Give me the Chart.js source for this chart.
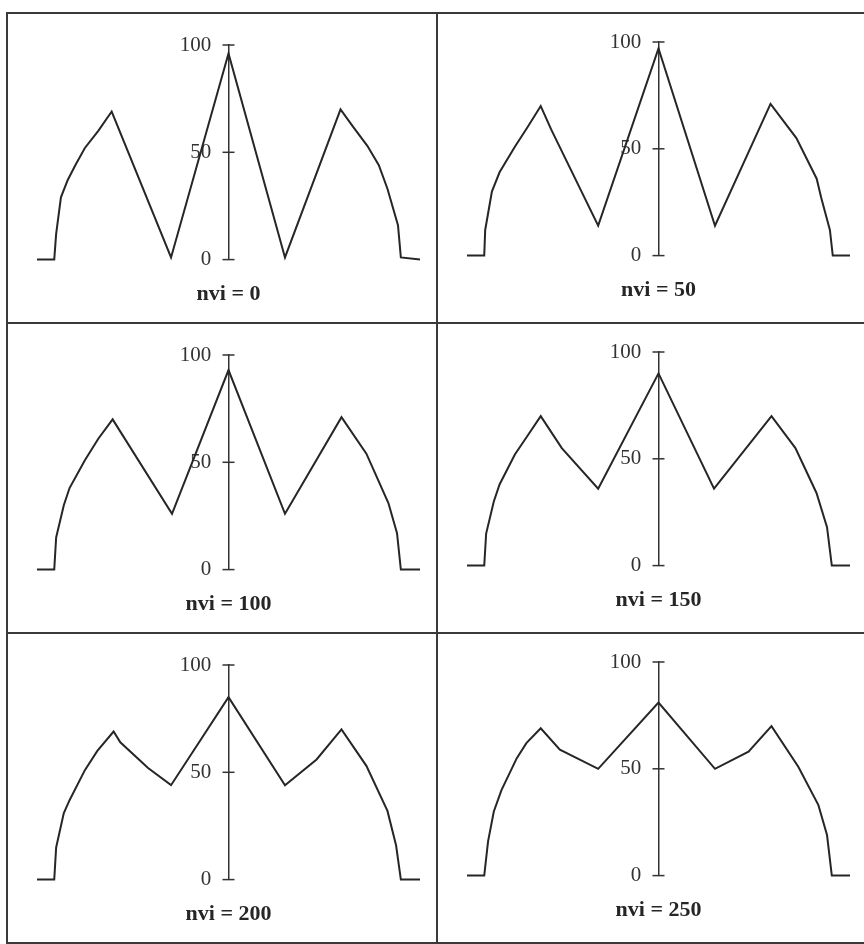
<!DOCTYPE html>
<html>
<head>
  <meta charset="utf-8">
  <title>nvi profiles</title>
  <script src="https://cdn.jsdelivr.net/npm/chart.js@4.4.1/dist/chart.umd.min.js"></script>
  <style>
    body { margin: 0; background: #fff; }
    #frame {
      position: absolute; left: 6px; top: 12px;
      display: grid;
      grid-template-columns: 430px 430px;
      grid-template-rows: 310px 310px 310px;
      border-top: 2px solid #3a3a3a;
      border-left: 2px solid #3a3a3a;
    }
    .cell {
      position: relative;
      box-sizing: border-box;
      border-right: 2px solid #3a3a3a;
      border-bottom: 2px solid #3a3a3a;
    }
    .cell canvas { display: block; }
  </style>
</head>
<body>
  <div id="frame">
    <div class="cell"><canvas id="c0"></canvas></div>
    <div class="cell"><canvas id="c1"></canvas></div>
    <div class="cell"><canvas id="c2"></canvas></div>
    <div class="cell"><canvas id="c3"></canvas></div>
    <div class="cell"><canvas id="c4"></canvas></div>
    <div class="cell"><canvas id="c5"></canvas></div>
  </div>

  <script>
    // panel titles
    const nviLabels = ['nvi = 0', 'nvi = 50', 'nvi = 100', 'nvi = 150', 'nvi = 200', 'nvi = 250'];
    const yTicks = [0, 50, 100];

    // profile vertices (x: position, y: value)
    const x0 = [-10, -9.1, -9.0, -8.75, -8.4, -8.0, -7.5, -6.8, -6.1, -3.0, 0, 2.95, 5.85, 6.5, 7.25, 7.85, 8.3, 8.85, 9.0, 10];
    const y0 = [0, 0, 12, 29, 37, 44, 52, 60, 69, 1, 96, 1, 70, 62, 53, 44, 33, 16, 1, 0];

    const x50 = [-10, -9.1, -9.05, -8.7, -8.3, -7.5, -6.85, -6.15, -5.6, -3.15, 0, 2.95, 5.85, 7.2, 8.26, 8.5, 8.95, 9.1, 10];
    const y50 = [0, 0, 12, 30, 39, 51, 60, 70, 59, 14, 97, 14, 71, 55, 36, 27, 12, 0, 0];

    const x100 = [-10, -9.1, -9.0, -8.6, -8.3, -7.5, -6.8, -6.05, -2.95, 0, 2.95, 5.9, 7.2, 8.35, 8.8, 9.0, 10];
    const y100 = [0, 0, 15, 30, 38, 51, 61, 70, 26, 93, 26, 71, 54, 31, 17, 0, 0];

    const x150 = [-10, -9.1, -9.0, -8.6, -8.3, -7.5, -6.9, -6.15, -5.05, -3.15, 0, 2.9, 5.9, 7.15, 8.25, 8.8, 9.05, 10];
    const y150 = [0, 0, 15, 30, 38, 52, 60, 70, 55, 36, 90, 36, 70, 55, 34, 18, 0, 0];

    const x200 = [-10, -9.1, -9.0, -8.6, -8.3, -7.5, -6.85, -6.0, -5.65, -4.2, -3.0, 0, 2.95, 4.6, 5.9, 7.2, 8.3, 8.75, 9.0, 10];
    const y200 = [0, 0, 15, 31, 37, 51, 60, 69, 64, 52, 44, 85, 44, 56, 70, 53, 32, 16, 0, 0];

    const x250 = [-10, -9.1, -8.9, -8.6, -8.2, -7.4, -6.9, -6.15, -5.15, -3.15, 0, 2.95, 4.7, 5.9, 7.3, 8.35, 8.8, 9.05, 10];
    const y250 = [0, 0, 16, 30, 40, 55, 62, 69, 59, 50, 81, 50, 58, 70, 51, 33, 19, 0, 0];

    const xs = [x0, x50, x100, x150, x200, x250];
    const ys = [y0, y50, y100, y150, y200, y250];

    const ink = '#262626';
    const serif = "'Liberation Serif', 'Times New Roman', serif";

    // small tick marks crossing the centred y axis
    const crossTicks = {
      id: 'crossTicks',
      afterDatasetsDraw(chart) {
        const sy = chart.scales.y;
        const ax = chart.scales.x.getPixelForValue(0);
        const ctx = chart.ctx;
        ctx.save();
        ctx.strokeStyle = '#333';
        ctx.lineWidth = 1.5;
        sy.ticks.forEach(t => {
          const py = sy.getPixelForValue(t.value);
          ctx.beginPath();
          ctx.moveTo(ax - 6, py);
          ctx.lineTo(ax + 6, py);
          ctx.stroke();
        });
        ctx.restore();
      }
    };

    nviLabels.forEach((label, i) => {
      const col = i % 2;
      const data = xs[i].map((x, k) => ({ x: x, y: ys[i][k] }));
      const ctx = document.getElementById('c' + i);
      ctx.width = 428;
      ctx.height = 308;
      new Chart(ctx, {
        type: 'line',
        data: {
          datasets: [{
            data: data,
            borderColor: ink,
            borderWidth: 2,
            pointRadius: 0,
            tension: 0,
            fill: false,
            clip: false
          }]
        },
        plugins: [crossTicks],
        options: {
          responsive: false,
          animation: false,
          events: [],
          layout: {
            padding: { left: 29, right: 16, top: col ? 28 : 31, bottom: col ? 18 : 14 }
          },
          plugins: {
            legend: { display: false },
            tooltip: { enabled: false },
            title: {
              display: true,
              text: label,
              position: 'bottom',
              fullSize: false,
              color: ink,
              font: { family: serif, size: 22, weight: 'bold' },
              padding: { top: 22, bottom: 0 }
            }
          },
          scales: {
            x: { type: 'linear', min: -10, max: 10, display: false },
            // the axis line itself, at x = 0
            y: {
              type: 'linear',
              min: 0,
              max: 100,
              position: { x: 0 },
              afterBuildTicks: s => { s.ticks = yTicks.map(v => ({ value: v })); },
              grid: { display: false },
              border: { display: true, color: '#333', width: 1.5 },
              ticks: { display: false }
            },
            // tick labels, set a little to the left of the axis line
            yLabels: {
              type: 'linear',
              axis: 'y',
              min: 0,
              max: 100,
              position: { x: -0.9 },
              afterBuildTicks: s => { s.ticks = yTicks.map(v => ({ value: v })); },
              grid: { display: false },
              border: { display: false },
              ticks: {
                color: '#333',
                font: { family: serif, size: 21 }
              }
            }
          }
        }
      });
    });
  </script>
</body>
</html>
